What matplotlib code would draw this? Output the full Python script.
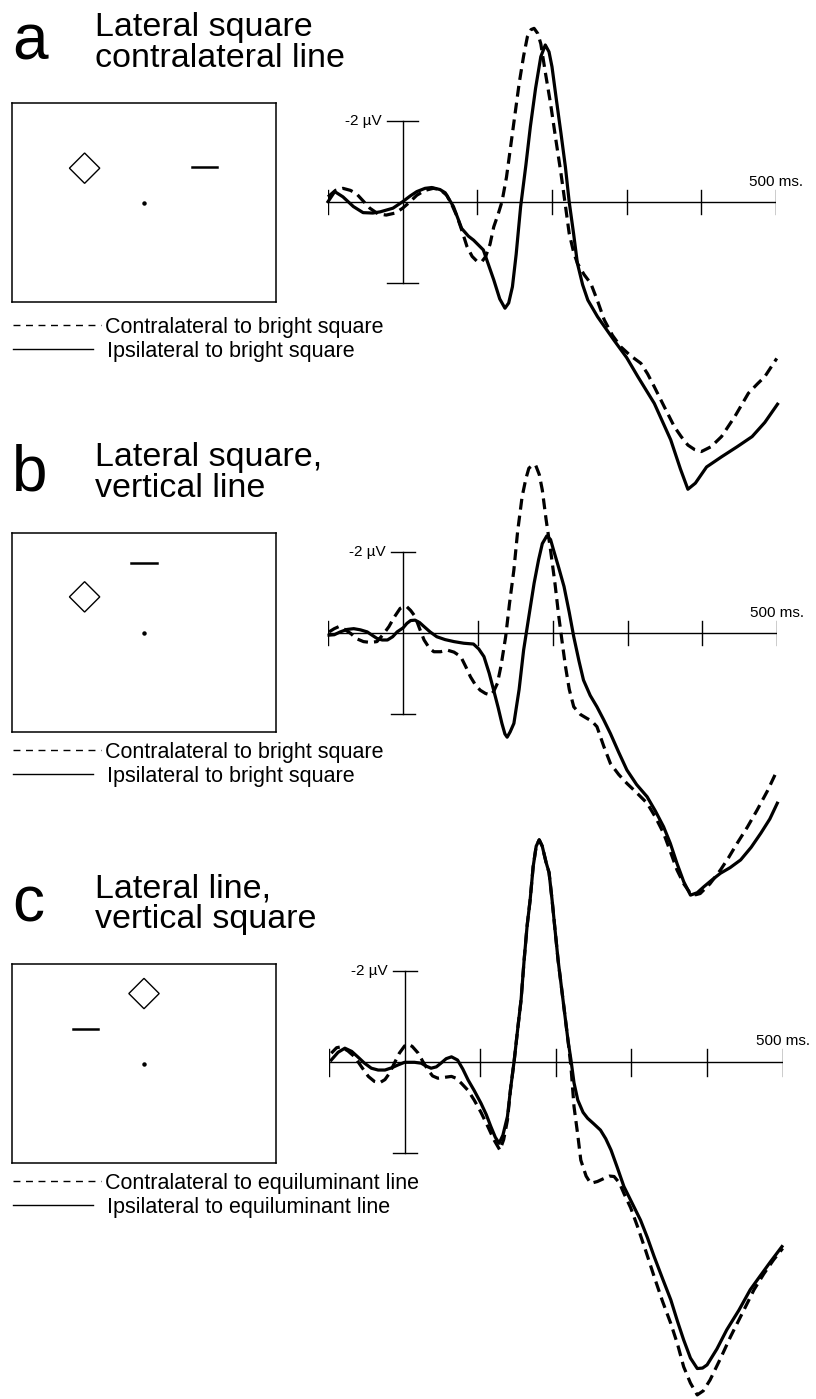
import matplotlib
matplotlib.use("Agg")
import matplotlib.pyplot as plt
from matplotlib.lines import Line2D
from matplotlib.patches import RegularPolygon

plt.rcParams['font.family'] = ['Liberation Sans', 'DejaVu Sans']

# ---- data ----
T_START, T_END = -100, 500
TICKS = [-100, 100, 200, 300, 400, 500]
SCALE_UV = 2

# panel a: lateral square, contralateral line
a_contra_t = [-100, -90, -80, -70, -62, -53, -44, -33, -22, -10, 0, 10, 19, 30, 41, 50, 59, 66, 73, 80,
              86, 93, 100, 106, 111, 117, 122, 128, 133, 139, 144, 150, 156, 162, 167, 172, 176, 181, 185, 191,
              198, 205, 212, 218, 223, 229, 234, 243, 252, 261, 270, 281, 292, 305, 319, 328, 337, 350, 364, 373,
              382, 391, 400, 413, 427, 445, 463, 475, 485, 501]
a_contra_uv = [-0.12, -0.28, -0.33, -0.28, -0.2, -0.02, 0.16, 0.3, 0.33, 0.28, 0.16, 0.0, -0.16, -0.28, -0.33, -0.3, -0.16, 0.08, 0.37, 0.75,
               1.1, 1.35, 1.48, 1.48, 1.36, 1.05, 0.62, 0.3, 0.0, -0.6, -1.28, -2.1, -2.92, -3.6, -4.07, -4.25, -4.28, -4.15, -3.9, -3.2,
               -2.43, -1.55, -0.7, 0.1, 0.78, 1.25, 1.52, 1.8, 2.02, 2.45, 2.92, 3.3, 3.58, 3.8, 3.99, 4.25, 4.57, 5.05, 5.56, 5.8,
               6.01, 6.12, 6.17, 6.05, 5.8, 5.3, 4.73, 4.5, 4.32, 3.87]
a_ipsi_t = [-100, -91, -80, -66, -53, -40, -30, -13, 0, 10, 19, 30, 39, 50, 57, 68, 79, 88, 95, 108,
            122, 130, 137, 142, 147, 152, 158, 165, 171, 178, 185, 191, 196, 200, 206, 212, 218, 223, 229, 234,
            241, 248, 261, 283, 300, 315, 337, 359, 372, 382, 392, 407, 427, 448, 468, 485, 502]
a_ipsi_uv = [0.0, -0.25, -0.12, 0.12, 0.27, 0.28, 0.25, 0.16, 0.0, -0.14, -0.25, -0.33, -0.35, -0.3, -0.22, 0.12, 0.66, 0.85, 0.95, 1.19,
             1.93, 2.4, 2.63, 2.5, 2.1, 1.3, 0.12, -0.9, -1.85, -2.8, -3.58, -3.87, -3.7, -3.33, -2.5, -1.69, -0.85, 0.0, 0.8, 1.52,
             2.05, 2.43, 2.84, 3.42, 3.85, 4.32, 4.98, 5.88, 6.6, 7.1, 6.95, 6.55, 6.3, 6.05, 5.8, 5.45, 5.0]

# panel b: lateral square, vertical line
b_contra_t = [-99, -92, -86, -78, -70, -62, -53, -44, -35, -27, -19, -12, -4, 1, 5, 10, 16, 22, 28, 35,
              41, 50, 59, 68, 77, 84, 90, 97, 103, 110, 117, 121, 126, 131, 137, 142, 148, 153, 159, 164,
              168, 173, 177, 182, 186, 191, 197, 203, 208, 213, 217, 222, 228, 237, 246, 252, 259, 268, 277, 288,
              299, 312, 326, 337, 348, 357, 366, 375, 384, 391, 397, 410, 424, 435, 446, 460, 473, 487, 500]
b_contra_uv = [-0.02, -0.1, -0.15, -0.08, 0.02, 0.15, 0.22, 0.24, 0.22, 0.05, -0.15, -0.38, -0.6, -0.64, -0.64, -0.55, -0.4, -0.1, 0.18, 0.38,
               0.47, 0.47, 0.43, 0.48, 0.59, 0.85, 1.09, 1.3, 1.42, 1.5, 1.54, 1.45, 1.25, 0.8, 0.1, -0.7, -1.55, -2.5, -3.36, -3.8,
               -4.06, -4.14, -4.14, -3.9, -3.52, -2.8, -2.04, -1.2, -0.4, 0.3, 0.84, 1.4, 1.83, 2.02, 2.12, 2.18, 2.32, 2.8, 3.23, 3.5,
               3.72, 3.95, 4.21, 4.55, 4.95, 5.4, 5.86, 6.2, 6.44, 6.47, 6.44, 6.2, 5.86, 5.55, 5.21, 4.8, 4.38, 3.9, 3.39]
b_ipsi_t = [-99, -92, -84, -75, -66, -57, -48, -40, -35, -28, -21, -14, -8, 0, 5, 10, 16, 22, 28, 36,
            45, 56, 68, 81, 94, 101, 108, 115, 121, 127, 132, 136, 139, 143, 148, 155, 161, 168, 175, 181,
            186, 192, 197, 201, 208, 215, 222, 228, 235, 241, 250, 259, 268, 277, 288, 299, 312, 326, 337, 348,
            357, 366, 375, 384, 393, 402, 413, 424, 437, 451, 465, 478, 490, 500]
b_ipsi_uv = [0.06, 0.05, -0.02, -0.08, -0.1, -0.07, -0.02, 0.08, 0.14, 0.18, 0.18, 0.1, -0.02, -0.12, -0.23, -0.3, -0.31, -0.25, -0.15, -0.02,
             0.1, 0.17, 0.22, 0.26, 0.28, 0.4, 0.59, 1.0, 1.42, 1.85, 2.24, 2.5, 2.58, 2.45, 2.24, 1.4, 0.43, -0.4, -1.22, -1.8,
             -2.2, -2.39, -2.3, -2.04, -1.6, -1.14, -0.5, 0.1, 0.7, 1.17, 1.55, 1.83, 2.15, 2.49, 2.95, 3.39, 3.75, 4.05, 4.4, 4.79,
             5.2, 5.7, 6.15, 6.48, 6.42, 6.27, 6.1, 5.94, 5.8, 5.61, 5.3, 4.95, 4.6, 4.21]

# panel c: lateral line, vertical square
c_contra_t = [-97, -90, -84, -75, -66, -57, -48, -40, -33, -26, -20, -13, -7, 0, 4, 10, 18, 24, 31, 37,
              44, 53, 62, 68, 75, 84, 92, 101, 110, 118, 126, 131, 136, 140, 145, 150, 154, 158, 162, 166,
              170, 174, 178, 182, 187, 191, 195, 199, 203, 210, 216, 220, 224, 229, 233, 240, 246, 255, 264, 271,
              277, 284, 290, 299, 308, 319, 330, 341, 352, 361, 369, 378, 387, 395, 404, 418, 431, 447, 462, 475,
              488, 500]
c_contra_uv = [-0.2, -0.32, -0.34, -0.25, -0.12, 0.1, 0.31, 0.42, 0.45, 0.38, 0.24, 0.0, -0.2, -0.36, -0.4, -0.35, -0.2, -0.02, 0.17, 0.3,
               0.35, 0.33, 0.31, 0.35, 0.46, 0.62, 0.83, 1.1, 1.41, 1.7, 1.93, 1.7, 1.27, 0.6, -0.05, -0.8, -1.37, -2.24, -3.0, -3.57,
               -4.3, -4.75, -4.89, -4.75, -4.4, -4.17, -3.57, -2.9, -2.24, -1.3, -0.49, 0.1, 0.97, 1.6, 2.15, 2.5, 2.66, 2.62, 2.55, 2.5,
               2.51, 2.65, 2.88, 3.2, 3.61, 4.15, 4.71, 5.25, 5.74, 6.2, 6.69, 7.05, 7.31, 7.22, 6.98, 6.5, 6.03, 5.5, 5.0, 4.65,
               4.34, 4.09]
c_ipsi_t = [-97, -88, -79, -70, -62, -53, -44, -35, -26, -17, -9, 0, 13, 22, 28, 35, 42, 48, 55, 62,
            70, 77, 84, 92, 101, 108, 114, 120, 125, 130, 136, 140, 145, 150, 154, 158, 162, 166, 170, 174,
            178, 182, 187, 191, 195, 199, 203, 210, 216, 220, 224, 229, 236, 242, 250, 259, 266, 273, 281, 290,
            301, 312, 321, 330, 341, 352, 361, 369, 378, 387, 394, 400, 413, 426, 442, 457, 470, 484, 499]
c_ipsi_uv = [-0.05, -0.22, -0.31, -0.24, -0.12, 0.02, 0.13, 0.17, 0.17, 0.12, 0.06, 0.0, 0.0, 0.02, 0.08, 0.13, 0.1, 0.02, -0.08, -0.12,
             -0.05, 0.15, 0.39, 0.62, 0.9, 1.15, 1.41, 1.65, 1.78, 1.6, 1.19, 0.6, -0.05, -0.8, -1.37, -2.24, -3.0, -3.57, -4.3, -4.75,
             -4.89, -4.75, -4.4, -4.17, -3.57, -2.9, -2.24, -1.3, -0.49, -0.05, 0.45, 0.83, 1.1, 1.23, 1.35, 1.49, 1.68, 1.93, 2.3, 2.73,
             3.1, 3.47, 3.85, 4.27, 4.75, 5.22, 5.7, 6.1, 6.5, 6.73, 6.72, 6.65, 6.3, 5.88, 5.45, 5.0, 4.7, 4.38, 4.05]

letters = ['a', 'b', 'c']
titles = [('Lateral square', 'contralateral line'),
          ('Lateral square,', 'vertical line'),
          ('Lateral line,', 'vertical square')]
legend_labels = [('Contralateral to bright square', 'Ipsilateral to bright square'),
                 ('Contralateral to bright square', 'Ipsilateral to bright square'),
                 ('Contralateral to equiluminant line', 'Ipsilateral to equiluminant line')]
# stimulus layout, relative to fixation (box half-width = 1)
square_pos = [(-0.45, 0.26), (-0.45, 0.27), (0.0, 0.53)]
bar_pos = [(0.46, 0.27), (0.0, 0.53), (-0.44, 0.26)]

# ---- layout (pixels) ----
W, H = 816, 1399
panel_top = [0, 430, 861]
erp_geom = [(328, 776, 201.7, 40.5, 21), (328.3, 777.3, 632.7, 40.5, 16), (329, 782.7, 1062.3, 45.5, 16)]
curves = [(a_contra_t, a_contra_uv, a_ipsi_t, a_ipsi_uv),
          (b_contra_t, b_contra_uv, b_ipsi_t, b_ipsi_uv),
          (c_contra_t, c_contra_uv, c_ipsi_t, c_ipsi_uv)]

fig = plt.figure(figsize=(W / 100, H / 100), dpi=100)


def fy(py):
    return 1 - py / H


for i in range(3):
    top = panel_top[i]

    # letter and title
    fig.text(12 / W, fy(top + 60), letters[i], fontsize=46, va='baseline')
    fig.text(95 / W, fy(top + 36), titles[i][0], fontsize=24.5, va='baseline')
    fig.text(95 / W, fy(top + 67), titles[i][1], fontsize=24.5, va='baseline')

    # stimulus display
    bx, by, bw, bh = 12, top + 103, 264, 199
    sax = fig.add_axes([bx / W, fy(by + bh), bw / W, bh / H])
    sax.set_xlim(-1, 1)
    sax.set_ylim(-bh / bw, bh / bw)
    sax.set_xticks([])
    sax.set_yticks([])
    for sp in sax.spines.values():
        sp.set_linewidth(1.1)
    sq = RegularPolygon(square_pos[i], numVertices=4, radius=0.115, orientation=0,
                        fill=False, edgecolor='k', lw=1.0)
    sax.add_patch(sq)
    sax.plot([bar_pos[i][0] - 0.095, bar_pos[i][0] + 0.095], [bar_pos[i][1]] * 2, color='k', lw=1.8)
    sax.plot([0], [0], 'ko', ms=2.2)

    # legend
    ly = top + 325 if i == 0 else top + 320
    fig.add_artist(Line2D([13 / W, 101 / W], [fy(ly)] * 2, color='k', lw=1.0, dashes=(5, 4)))
    fig.add_artist(Line2D([13 / W, 93 / W], [fy(ly + 24)] * 2, color='k', lw=1.0))
    fig.text(105 / W, fy(ly + 8), legend_labels[i][0], fontsize=15.5, va='baseline')
    fig.text(107 / W, fy(ly + 32), legend_labels[i][1], fontsize=15.5, va='baseline')

    # ERP axes
    left, right, base, px_uv, cap = erp_geom[i]
    vtop = -5.6
    vbot = (H - base) / px_uv
    ax = fig.add_axes([left / W, 0, (right - left) / W, (vbot - vtop) * px_uv / H])
    ax.set_xlim(T_START, T_END)
    ax.set_ylim(vbot, vtop)
    ax.axis('off')

    ax.plot([T_START, T_END], [0, 0], color='k', lw=1.0)
    for t in TICKS:
        ax.plot([t, t], [-0.3, 0.3], color='k', lw=1.0)
    ax.plot([0, 0], [-SCALE_UV, SCALE_UV], color='k', lw=1.0)
    ax.plot([-cap, cap], [-SCALE_UV, -SCALE_UV], color='k', lw=1.0)
    ax.plot([-cap, cap], [SCALE_UV, SCALE_UV], color='k', lw=1.0)
    ax.text(-cap - 7, -SCALE_UV, '-2 µV', ha='right', va='center', fontsize=11)
    ax.text(T_END, -0.38, '500 ms.', ha='center', va='baseline', fontsize=11)

    ct, cv, it, iv = curves[i]
    ax.plot(ct, cv, color='k', lw=2.3, dashes=(3.4, 1.9), clip_on=False)
    ax.plot(it, iv, color='k', lw=2.3, solid_joinstyle='round', clip_on=False)

fig.savefig('out.png', dpi=100)
